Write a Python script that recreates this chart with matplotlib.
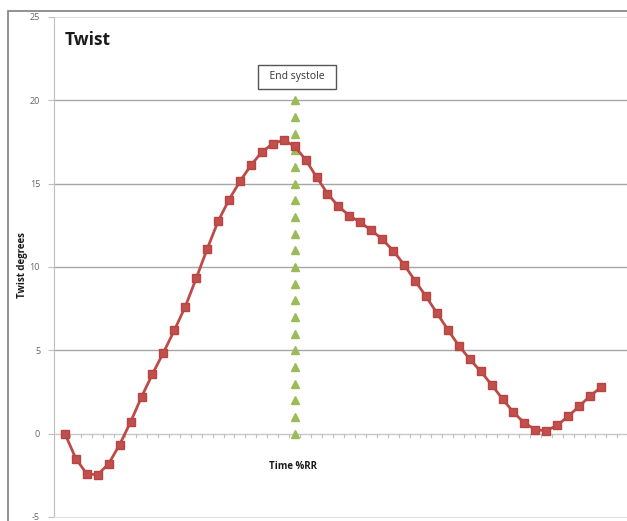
import matplotlib as mpl
mpl.use('Agg')
import matplotlib.pyplot as plt
import matplotlib.patches as patches
import numpy as np

# twist in degrees, one value per time step (%RR)
twist = [0, -1.5, -2.42, -2.46, -1.8, -0.66, 0.70, 2.2, 3.58, 4.86,
         6.2, 7.62, 9.32, 11.08, 12.74, 14.04, 15.14, 16.1, 16.9, 17.4,
         17.62, 17.24, 16.44, 15.4, 14.4, 13.64, 13.08, 12.68, 12.2, 11.68,
         10.98, 10.14, 9.18, 8.24, 7.24, 6.24, 5.28, 4.48, 3.74, 2.94,
         2.08, 1.28, 0.64, 0.24, 0.18, 0.5, 1.04, 1.64, 2.26, 2.78]
steps = list(range(1, len(twist) + 1))

# end systole marker: step and heights of the triangles
es_step = 22
es_levels = list(range(0, 21))

y_ticks = [-5, 0, 5, 10, 15, 20, 25]

plt.rcParams['font.family'] = ['Open Sans', 'DejaVu Sans']

fig = plt.figure(figsize=(6.27, 5.21), dpi=100)
W, H = 627, 521
ax = fig.add_axes([54 / W, 4 / H, 1 - 54 / W, 500 / H])

# outer chart frame
fig.patches.append(patches.Rectangle((8 / W, -0.02), 1.1, 1 - 11 / H + 0.02,
                                     transform=fig.transFigure, fill=False,
                                     edgecolor='#7f7f7f', linewidth=1.2))

ax.set_xlim(0, 52.38)
ax.set_ylim(-5, 25)

for s in ['top', 'right']:
    ax.spines[s].set_visible(False)
ax.spines['left'].set_color('#bfbfbf')
ax.spines['bottom'].set_color('#e0e0e0')

for yv in [5, 10, 15, 20]:
    ax.axhline(yv, color='#a6a6a6', linewidth=1.0, zorder=1)
ax.axhline(25, color='#dcdcdc', linewidth=1.5, zorder=1)
# category axis through zero
ax.axhline(0, color='#c8c8c8', linewidth=1.0, zorder=1)
for t in np.arange(1.5, 52, 1.0):
    ax.plot([t, t], [0, -0.22], color='#bdbdbd', linewidth=0.8, zorder=1)

ax.set_yticks(y_ticks)
ax.set_yticklabels([str(v) for v in y_ticks])
ax.tick_params(axis='y', length=4, width=0.8, color='#bfbfbf',
               labelsize=6.5, labelcolor='#666666', pad=6)
ax.set_xticks([])

ax.plot(es_step * np.ones(len(es_levels)), es_levels, linestyle='none',
        marker='^', markersize=5.5, color='#9bbb59', zorder=3)
ax.plot(steps, twist, color='#be4b48', linewidth=2.0, marker='s',
        markersize=6.0, markerfacecolor='#c0504d', markeredgecolor='#b94441',
        zorder=4)

ax.text(1.0, 23.6, 'Twist', fontsize=12.5, fontweight='bold', color='#1a1a1a',
        va='center', ha='left')
ax.text(22.2, 21.4, '  End systole  ', fontsize=7.5, color='#333333',
        ha='center', va='center',
        bbox=dict(boxstyle='square,pad=0.6', facecolor='white',
                  edgecolor='#555555', linewidth=1.0))
ax.text(21.85, -1.98, 'Time %RR', fontsize=7, fontweight='bold',
        color='#1a1a1a', ha='center', va='center')
fig.text(22 / W, 1 - 265 / H, 'Twist degrees', rotation=90, fontsize=7,
         fontweight='bold', color='#1a1a1a', ha='center', va='center')

fig.savefig('out.png', dpi=100)
